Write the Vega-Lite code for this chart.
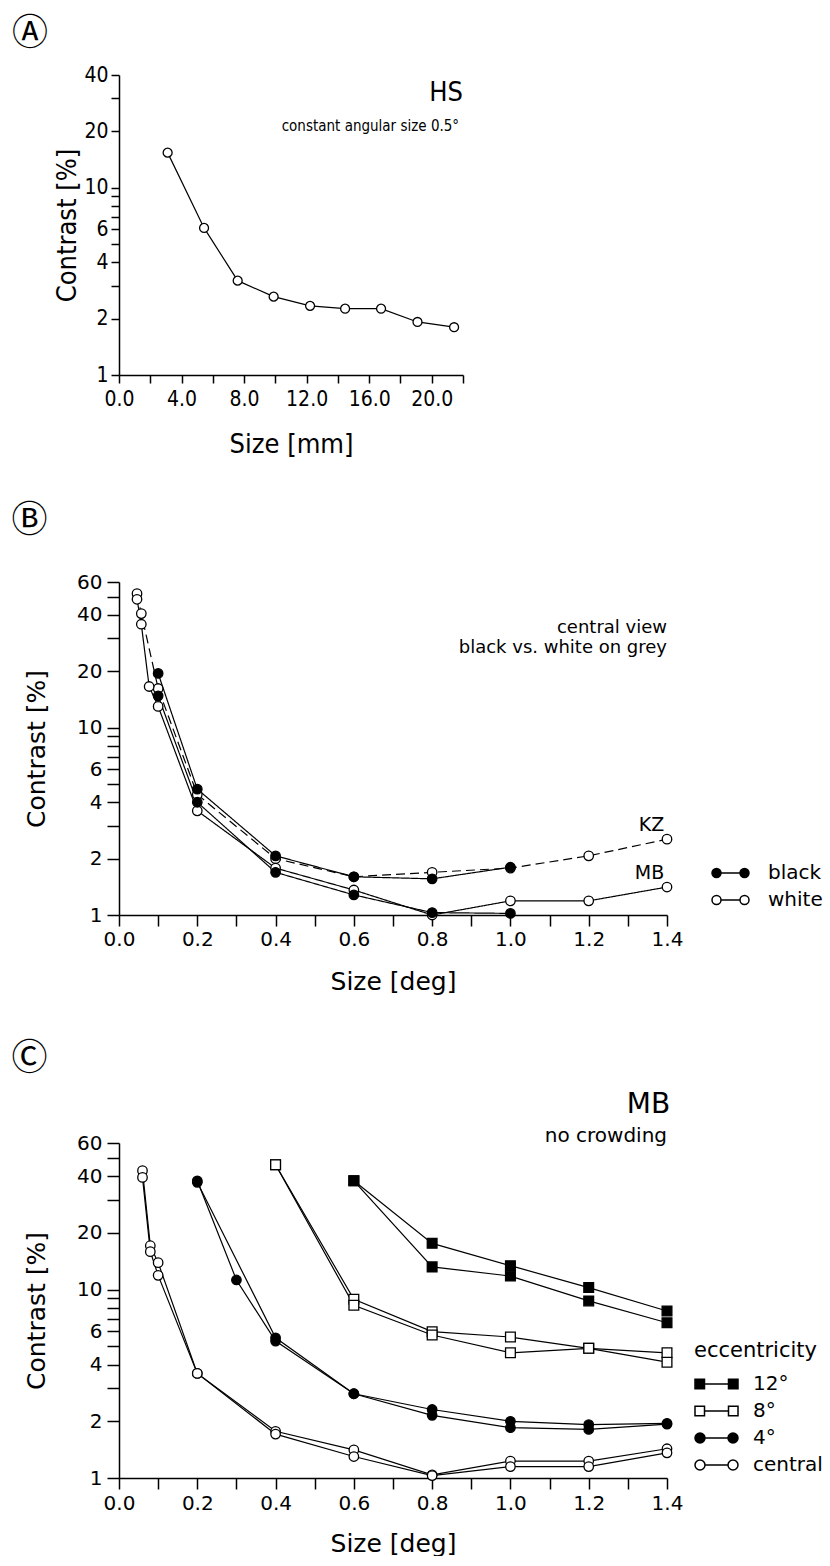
{
  "$schema": "https://vega.github.io/schema/vega-lite/v6.json",
  "background": "white",
  "padding": {"left": 11, "top": 16, "right": 0, "bottom": 0},
  "spacing": 46,
  "resolve": {
    "scale": {"fill": "independent", "shape": "independent", "strokeDash": "independent"},
    "legend": {"fill": "independent", "shape": "independent", "strokeDash": "independent"}
  },
  "config": {
    "view": {"stroke": null},
    "axis": {"grid": false, "domainColor": "black", "domainWidth": 1.5, "tickColor": "black", "tickWidth": 1.5, "labelColor": "black", "titleColor": "black", "titleFontWeight": "normal", "labelFlush": false, "labelOverlap": false},
    "legend": {"labelColor": "black", "titleColor": "black"},
    "title": {"color": "black"}
  },
  "datasets": {
    "A": [
      {"size": 3.11, "contrast": 15.4},
      {"size": 5.44, "contrast": 6.1},
      {"size": 7.59, "contrast": 3.19},
      {"size": 9.89, "contrast": 2.62},
      {"size": 12.22, "contrast": 2.34},
      {"size": 14.46, "contrast": 2.26},
      {"size": 16.76, "contrast": 2.26},
      {"size": 19.09, "contrast": 1.92},
      {"size": 21.43, "contrast": 1.8}
    ],
    "B": [
      {"series": "KZ white", "color": "white", "dash": "dashed", "size": 0.046, "contrast": 52},
      {"series": "KZ white", "color": "white", "dash": "dashed", "size": 0.057, "contrast": 40.7},
      {"series": "KZ white", "color": "white", "dash": "dashed", "size": 0.1, "contrast": 16.2},
      {"series": "KZ white", "color": "white", "dash": "dashed", "size": 0.2, "contrast": 4.4},
      {"series": "KZ white", "color": "white", "dash": "dashed", "size": 0.4, "contrast": 2.0},
      {"series": "KZ white", "color": "white", "dash": "dashed", "size": 0.6, "contrast": 1.6},
      {"series": "KZ white", "color": "white", "dash": "dashed", "size": 0.8, "contrast": 1.69},
      {"series": "KZ white", "color": "white", "dash": "dashed", "size": 1.0, "contrast": 1.78},
      {"series": "KZ white", "color": "white", "dash": "dashed", "size": 1.2, "contrast": 2.07},
      {"series": "KZ white", "color": "white", "dash": "dashed", "size": 1.4, "contrast": 2.54},
      {"series": "MB white", "color": "white", "dash": "solid", "size": 0.046, "contrast": 48.5},
      {"series": "MB white", "color": "white", "dash": "solid", "size": 0.057, "contrast": 35.7},
      {"series": "MB white", "color": "white", "dash": "solid", "size": 0.077, "contrast": 16.6},
      {"series": "MB white", "color": "white", "dash": "solid", "size": 0.1, "contrast": 13.0},
      {"series": "MB white", "color": "white", "dash": "solid", "size": 0.2, "contrast": 3.6},
      {"series": "MB white", "color": "white", "dash": "solid", "size": 0.4, "contrast": 1.78},
      {"series": "MB white", "color": "white", "dash": "solid", "size": 0.6, "contrast": 1.36},
      {"series": "MB white", "color": "white", "dash": "solid", "size": 0.8, "contrast": 1.0},
      {"series": "MB white", "color": "white", "dash": "solid", "size": 1.0, "contrast": 1.19},
      {"series": "MB white", "color": "white", "dash": "solid", "size": 1.2, "contrast": 1.19},
      {"series": "MB white", "color": "white", "dash": "solid", "size": 1.4, "contrast": 1.41},
      {"series": "KZ black", "color": "black", "dash": "solid", "size": 0.1, "contrast": 19.5},
      {"series": "KZ black", "color": "black", "dash": "solid", "size": 0.2, "contrast": 4.7},
      {"series": "KZ black", "color": "black", "dash": "solid", "size": 0.4, "contrast": 2.07},
      {"series": "KZ black", "color": "black", "dash": "solid", "size": 0.6, "contrast": 1.6},
      {"series": "KZ black", "color": "black", "dash": "solid", "size": 0.8, "contrast": 1.56},
      {"series": "KZ black", "color": "black", "dash": "solid", "size": 1.0, "contrast": 1.8},
      {"series": "MB black", "color": "black", "dash": "solid", "size": 0.1, "contrast": 14.8},
      {"series": "MB black", "color": "black", "dash": "solid", "size": 0.2, "contrast": 4.0},
      {"series": "MB black", "color": "black", "dash": "solid", "size": 0.4, "contrast": 1.69},
      {"series": "MB black", "color": "black", "dash": "solid", "size": 0.6, "contrast": 1.28},
      {"series": "MB black", "color": "black", "dash": "solid", "size": 0.8, "contrast": 1.03},
      {"series": "MB black", "color": "black", "dash": "solid", "size": 1.0, "contrast": 1.02}
    ],
    "C": [
      {"series": "central a", "ecc": "central", "size": 0.06, "contrast": 42.8},
      {"series": "central a", "ecc": "central", "size": 0.08, "contrast": 17.1},
      {"series": "central a", "ecc": "central", "size": 0.1, "contrast": 13.9},
      {"series": "central a", "ecc": "central", "size": 0.2, "contrast": 3.59},
      {"series": "central a", "ecc": "central", "size": 0.4, "contrast": 1.77},
      {"series": "central a", "ecc": "central", "size": 0.6, "contrast": 1.41},
      {"series": "central a", "ecc": "central", "size": 0.8, "contrast": 1.04},
      {"series": "central a", "ecc": "central", "size": 1.0, "contrast": 1.23},
      {"series": "central a", "ecc": "central", "size": 1.2, "contrast": 1.23},
      {"series": "central a", "ecc": "central", "size": 1.4, "contrast": 1.43},
      {"series": "central b", "ecc": "central", "size": 0.06, "contrast": 39.4},
      {"series": "central b", "ecc": "central", "size": 0.08, "contrast": 15.9},
      {"series": "central b", "ecc": "central", "size": 0.1, "contrast": 11.9},
      {"series": "central b", "ecc": "central", "size": 0.2, "contrast": 3.59},
      {"series": "central b", "ecc": "central", "size": 0.4, "contrast": 1.71},
      {"series": "central b", "ecc": "central", "size": 0.6, "contrast": 1.3},
      {"series": "central b", "ecc": "central", "size": 0.8, "contrast": 1.03},
      {"series": "central b", "ecc": "central", "size": 1.0, "contrast": 1.15},
      {"series": "central b", "ecc": "central", "size": 1.2, "contrast": 1.15},
      {"series": "central b", "ecc": "central", "size": 1.4, "contrast": 1.36},
      {"series": "4 a", "ecc": "4°", "size": 0.2, "contrast": 37.8},
      {"series": "4 a", "ecc": "4°", "size": 0.3, "contrast": 11.25},
      {"series": "4 a", "ecc": "4°", "size": 0.4, "contrast": 5.33},
      {"series": "4 a", "ecc": "4°", "size": 0.6, "contrast": 2.8},
      {"series": "4 a", "ecc": "4°", "size": 0.8, "contrast": 2.15},
      {"series": "4 a", "ecc": "4°", "size": 1.0, "contrast": 1.85},
      {"series": "4 a", "ecc": "4°", "size": 1.2, "contrast": 1.81},
      {"series": "4 a", "ecc": "4°", "size": 1.4, "contrast": 1.93},
      {"series": "4 b", "ecc": "4°", "size": 0.2, "contrast": 37.1},
      {"series": "4 b", "ecc": "4°", "size": 0.4, "contrast": 5.55},
      {"series": "4 b", "ecc": "4°", "size": 0.6, "contrast": 2.8},
      {"series": "4 b", "ecc": "4°", "size": 0.8, "contrast": 2.31},
      {"series": "4 b", "ecc": "4°", "size": 1.0, "contrast": 2.0},
      {"series": "4 b", "ecc": "4°", "size": 1.2, "contrast": 1.92},
      {"series": "4 b", "ecc": "4°", "size": 1.4, "contrast": 1.95},
      {"series": "8 a", "ecc": "8°", "size": 0.4, "contrast": 46.0},
      {"series": "8 a", "ecc": "8°", "size": 0.6, "contrast": 8.88},
      {"series": "8 a", "ecc": "8°", "size": 0.8, "contrast": 5.98},
      {"series": "8 a", "ecc": "8°", "size": 1.0, "contrast": 5.6},
      {"series": "8 a", "ecc": "8°", "size": 1.2, "contrast": 4.88},
      {"series": "8 a", "ecc": "8°", "size": 1.4, "contrast": 4.62},
      {"series": "8 b", "ecc": "8°", "size": 0.4, "contrast": 46.0},
      {"series": "8 b", "ecc": "8°", "size": 0.6, "contrast": 8.25},
      {"series": "8 b", "ecc": "8°", "size": 0.8, "contrast": 5.74},
      {"series": "8 b", "ecc": "8°", "size": 1.0, "contrast": 4.62},
      {"series": "8 b", "ecc": "8°", "size": 1.2, "contrast": 4.88},
      {"series": "8 b", "ecc": "8°", "size": 1.4, "contrast": 4.12},
      {"series": "12 a", "ecc": "12°", "size": 0.6, "contrast": 37.8},
      {"series": "12 a", "ecc": "12°", "size": 0.8, "contrast": 17.6},
      {"series": "12 a", "ecc": "12°", "size": 1.0, "contrast": 13.4},
      {"series": "12 a", "ecc": "12°", "size": 1.2, "contrast": 10.25},
      {"series": "12 a", "ecc": "12°", "size": 1.4, "contrast": 7.7},
      {"series": "12 b", "ecc": "12°", "size": 0.6, "contrast": 37.8},
      {"series": "12 b", "ecc": "12°", "size": 0.8, "contrast": 13.2},
      {"series": "12 b", "ecc": "12°", "size": 1.0, "contrast": 11.8},
      {"series": "12 b", "ecc": "12°", "size": 1.2, "contrast": 8.71},
      {"series": "12 b", "ecc": "12°", "size": 1.4, "contrast": 6.67}
    ]
  },
  "vconcat": [
    {
      "width": 344,
      "height": 300,
      "title": {"text": "Ⓐ", "anchor": "start", "frame": "bounds", "orient": "top", "offset": 11, "dx": -42, "fontSize": 36, "font": "DejaVu Sans, Noto Sans CJK JP", "fontWeight": "normal"},
      "encoding": {
        "x": {"field": "size", "type": "quantitative", "scale": {"domain": [0, 22], "nice": false, "zero": false},
          "axis": {"title": "Size [mm]", "values": [0, 2, 4, 6, 8, 10, 12, 14, 16, 18, 20, 22], "labelExpr": "datum.value % 4 === 0 ? format(datum.value, '.1f') : ''", "tickSize": 8, "labelPadding": 5, "labelFont": "Liberation Sans Narrow, DejaVu Sans Condensed, Liberation Sans", "labelFontSize": 21, "titleFont": "Liberation Sans Narrow, DejaVu Sans Condensed, Liberation Sans", "titleFontSize": 27, "titlePadding": 22,
            "encode": {"ticks": {"y2": {"condition": {"test": "datum.value % 4 !== 0", "value": 4}, "value": 8}}}}},
        "y": {"field": "contrast", "type": "quantitative", "scale": {"type": "log", "domain": [1, 40], "nice": false},
          "axis": {"title": "Contrast [%]", "values": [1, 2, 3, 4, 5, 6, 7, 8, 9, 10, 20, 30, 40], "labelExpr": "indexof([1,2,4,6,10,20,40], datum.value) >= 0 ? '' + datum.value : ''", "tickSize": 8, "labelPadding": 3, "labelFont": "Liberation Sans Narrow, DejaVu Sans Condensed, Liberation Sans", "labelFontSize": 21, "titleFont": "Liberation Sans Narrow, DejaVu Sans Condensed, Liberation Sans", "titleFontSize": 27, "titlePadding": 2,
            "encode": {"ticks": {"x2": {"condition": {"test": "indexof([1,2,4,6,10,20,40], datum.value) < 0", "value": -4}, "value": -8}}}}}
      },
      "layer": [
        {"data": {"name": "A"}, "mark": {"type": "line", "color": "black", "strokeWidth": 1.2}, "encoding": {}},
        {"data": {"name": "A"}, "mark": {"type": "point", "shape": "circle", "filled": true, "fill": "white", "stroke": "black", "strokeWidth": 1.3, "size": 80, "opacity": 1}},
        {"data": {"values": [{"size": 22, "contrast": 29, "label": "HS"}]}, "mark": {"type": "text", "align": "right", "baseline": "alphabetic", "fontSize": 27, "font": "Liberation Sans Narrow, DejaVu Sans Condensed, Liberation Sans", "color": "black"}, "encoding": {"text": {"field": "label"}}},
        {"data": {"values": [{"size": 21.75, "contrast": 20.1, "label": "constant angular size 0.5°"}]}, "mark": {"type": "text", "align": "right", "baseline": "alphabetic", "fontSize": 15, "font": "Liberation Sans Narrow, DejaVu Sans Condensed, Liberation Sans", "color": "black"}, "encoding": {"text": {"field": "label"}}}
      ]
    },
    {
      "width": 548,
      "height": 333,
      "title": {"text": "Ⓑ", "anchor": "start", "frame": "bounds", "orient": "top", "offset": 32, "dx": -13, "fontSize": 36, "font": "DejaVu Sans, Noto Sans CJK JP", "fontWeight": "normal"},
      "encoding": {
        "x": {"field": "size", "type": "quantitative", "scale": {"domain": [0, 1.4], "nice": false, "zero": false},
          "axis": {"title": "Size [deg]", "values": [0, 0.1, 0.2, 0.3, 0.4, 0.5, 0.6, 0.7, 0.8, 0.9, 1.0, 1.1, 1.2, 1.3, 1.4], "labelExpr": "abs(datum.value*5 - round(datum.value*5)) < 0.001 ? format(datum.value, '.1f') : ''", "tickSize": 11, "labelPadding": 3, "labelFont": "DejaVu Sans", "labelFontSize": 20, "titleFont": "DejaVu Sans", "titleFontSize": 25, "titlePadding": 20,
            "encode": {"ticks": {"y2": {"condition": {"test": "abs(datum.value*5 - round(datum.value*5)) > 0.001", "value": 5}, "value": 11}}}}},
        "y": {"field": "contrast", "type": "quantitative", "scale": {"type": "log", "domain": [1, 60], "nice": false},
          "axis": {"title": "Contrast [%]", "values": [1, 2, 3, 4, 5, 6, 7, 8, 9, 10, 20, 30, 40, 50, 60], "labelExpr": "indexof([1,2,4,6,10,20,40,60], datum.value) >= 0 ? '' + datum.value : ''", "tickSize": 12, "labelPadding": 5, "labelFont": "DejaVu Sans", "labelFontSize": 20, "titleFont": "DejaVu Sans", "titleFontSize": 25, "titlePadding": 27,
            "encode": {"ticks": {"x2": {"condition": {"test": "indexof([1,2,4,6,10,20,40,60], datum.value) < 0", "value": -6}, "value": -12}}}}},
        "fill": {"field": "color", "type": "nominal", "scale": {"domain": ["black", "white"], "range": ["black", "white"]},
          "legend": {"title": null, "orient": "none", "legendX": 592, "legendY": 280, "padding": 0, "symbolSize": 400, "symbolStrokeColor": "black", "symbolStrokeWidth": 1.5, "labelFont": "DejaVu Sans", "labelFontSize": 20, "labelOffset": 35, "rowPadding": 6}}
      },
      "layer": [
        {"data": {"name": "B"}, "mark": {"type": "line", "color": "black", "strokeWidth": 1.2},
          "encoding": {"detail": {"field": "series"}, "fill": null, "strokeDash": {"field": "dash", "type": "nominal", "scale": {"domain": ["solid", "dashed"], "range": [[1, 0], [9, 5]]}, "legend": null}}},
        {"data": {"name": "B"}, "mark": {"type": "point", "shape": "circle", "filled": true, "stroke": "black", "strokeWidth": 1.3, "size": 90, "opacity": 1}},
        {"data": {"name": "B"}, "transform": [{"filter": "false"}], "mark": {"type": "point", "filled": true, "stroke": "black", "strokeWidth": 1.5, "opacity": 1},
          "encoding": {"shape": {"field": "color", "type": "nominal", "scale": {"domain": ["black", "white"], "range": ["M-1,0A0.45,0.45,0,1,0,-0.1,0A0.45,0.45,0,1,0,-1,0Z M-0.1,0L1.8,0 M1.8,0A0.45,0.45,0,1,0,2.7,0A0.45,0.45,0,1,0,1.8,0Z", "M-1,0A0.45,0.45,0,1,0,-0.1,0A0.45,0.45,0,1,0,-1,0Z M-0.1,0L1.8,0 M1.8,0A0.45,0.45,0,1,0,2.7,0A0.45,0.45,0,1,0,1.8,0Z"]},
            "legend": {"title": null, "orient": "none", "legendX": 592, "legendY": 280, "padding": 0, "symbolSize": 400, "symbolStrokeColor": "black", "symbolStrokeWidth": 1.5, "labelFont": "DejaVu Sans", "labelFontSize": 20, "labelOffset": 35, "rowPadding": 6}}}},
        {"data": {"values": [{"size": 1.4, "contrast": 32, "label": "central view"}, {"size": 1.4, "contrast": 25, "label": "black vs. white on grey"}]}, "mark": {"type": "text", "align": "right", "baseline": "alphabetic", "fontSize": 18, "font": "DejaVu Sans", "color": "black"}, "encoding": {"text": {"field": "label"}, "fill": null}},
        {"data": {"values": [{"size": 1.393, "contrast": 2.81, "label": "KZ"}, {"size": 1.393, "contrast": 1.56, "label": "MB"}]}, "mark": {"type": "text", "align": "right", "baseline": "alphabetic", "fontSize": 19, "font": "DejaVu Sans", "color": "black"}, "encoding": {"text": {"field": "label"}, "fill": null}}
      ]
    },
    {
      "width": 548,
      "height": 335,
      "title": {"text": "Ⓒ", "anchor": "start", "frame": "bounds", "orient": "top", "offset": 13, "dx": -13, "fontSize": 36, "font": "DejaVu Sans, Noto Sans CJK JP", "fontWeight": "normal"},
      "encoding": {
        "x": {"field": "size", "type": "quantitative", "scale": {"domain": [0, 1.4], "nice": false, "zero": false},
          "axis": {"title": "Size [deg]", "values": [0, 0.1, 0.2, 0.3, 0.4, 0.5, 0.6, 0.7, 0.8, 0.9, 1.0, 1.1, 1.2, 1.3, 1.4], "labelExpr": "abs(datum.value*5 - round(datum.value*5)) < 0.001 ? format(datum.value, '.1f') : ''", "tickSize": 11, "labelPadding": 4, "labelFont": "DejaVu Sans", "labelFontSize": 20, "titleFont": "DejaVu Sans", "titleFontSize": 25, "titlePadding": 18,
            "encode": {"ticks": {"y2": {"condition": {"test": "abs(datum.value*5 - round(datum.value*5)) > 0.001", "value": 5}, "value": 11}}}}},
        "y": {"field": "contrast", "type": "quantitative", "scale": {"type": "log", "domain": [1, 60], "nice": false},
          "axis": {"title": "Contrast [%]", "values": [1, 2, 3, 4, 5, 6, 7, 8, 9, 10, 20, 30, 40, 50, 60], "labelExpr": "indexof([1,2,4,6,10,20,40,60], datum.value) >= 0 ? '' + datum.value : ''", "tickSize": 12, "labelPadding": 5, "labelFont": "DejaVu Sans", "labelFontSize": 20, "titleFont": "DejaVu Sans", "titleFontSize": 25, "titlePadding": 27,
            "encode": {"ticks": {"x2": {"condition": {"test": "indexof([1,2,4,6,10,20,40,60], datum.value) < 0", "value": -6}, "value": -12}}}}},
        "fill": {"field": "ecc", "type": "nominal", "scale": {"domain": ["12°", "8°", "4°", "central"], "range": ["black", "white", "black", "white"]},
          "legend": {"title": "eccentricity", "orient": "none", "legendX": 575, "legendY": 197, "padding": 0, "symbolSize": 400, "symbolStrokeColor": "black", "symbolStrokeWidth": 1.5, "labelFont": "DejaVu Sans", "labelFontSize": 20, "titleFont": "DejaVu Sans", "titleFontSize": 21, "titleFontWeight": "normal", "titlePadding": 12, "labelOffset": 37, "rowPadding": 6}}
      },
      "layer": [
        {"data": {"name": "C"}, "mark": {"type": "line", "color": "black", "strokeWidth": 1.2},
          "encoding": {"detail": {"field": "series"}, "fill": null}},
        {"data": {"name": "C"}, "transform": [{"filter": "datum.ecc === '12°' || datum.ecc === '8°'"}], "mark": {"type": "point", "shape": "square", "filled": true, "stroke": "black", "strokeWidth": 1.3, "size": 95, "opacity": 1}},
        {"data": {"name": "C"}, "transform": [{"filter": "datum.ecc === '4°' || datum.ecc === 'central'"}], "mark": {"type": "point", "shape": "circle", "filled": true, "stroke": "black", "strokeWidth": 1.3, "size": 90, "opacity": 1}},
        {"data": {"name": "C"}, "transform": [{"filter": "false"}], "mark": {"type": "point", "filled": true, "stroke": "black", "strokeWidth": 1.5, "opacity": 1},
          "encoding": {"shape": {"field": "ecc", "type": "nominal", "scale": {"domain": ["12°", "8°", "4°", "central"], "range": [
            "M-1,-0.475L-0.05,-0.475L-0.05,0.475L-1,0.475Z M-0.05,0L2.35,0 M2.35,-0.475L3.3,-0.475L3.3,0.475L2.35,0.475Z",
            "M-1,-0.475L-0.05,-0.475L-0.05,0.475L-1,0.475Z M-0.05,0L2.35,0 M2.35,-0.475L3.3,-0.475L3.3,0.475L2.35,0.475Z",
            "M-1,0A0.5,0.5,0,1,0,0,0A0.5,0.5,0,1,0,-1,0Z M0,0L2.3,0 M2.3,0A0.5,0.5,0,1,0,3.3,0A0.5,0.5,0,1,0,2.3,0Z",
            "M-1,0A0.5,0.5,0,1,0,0,0A0.5,0.5,0,1,0,-1,0Z M0,0L2.3,0 M2.3,0A0.5,0.5,0,1,0,3.3,0A0.5,0.5,0,1,0,2.3,0Z"]},
            "legend": {"title": "eccentricity", "orient": "none", "legendX": 575, "legendY": 197, "padding": 0, "symbolSize": 400, "symbolStrokeColor": "black", "symbolStrokeWidth": 1.5, "labelFont": "DejaVu Sans", "labelFontSize": 20, "titleFont": "DejaVu Sans", "titleFontSize": 21, "titleFontWeight": "normal", "titlePadding": 12, "labelOffset": 37, "rowPadding": 6}}}},
        {"data": {"values": [{"size": 1.408, "contrast": 87, "label": "MB"}]}, "mark": {"type": "text", "align": "right", "baseline": "alphabetic", "fontSize": 28, "font": "DejaVu Sans", "color": "black"}, "encoding": {"text": {"field": "label"}, "fill": null}},
        {"data": {"values": [{"size": 1.4, "contrast": 60.5, "label": "no crowding"}]}, "mark": {"type": "text", "align": "right", "baseline": "alphabetic", "fontSize": 20, "font": "DejaVu Sans", "color": "black"}, "encoding": {"text": {"field": "label"}, "fill": null}}
      ]
    }
  ]
}
